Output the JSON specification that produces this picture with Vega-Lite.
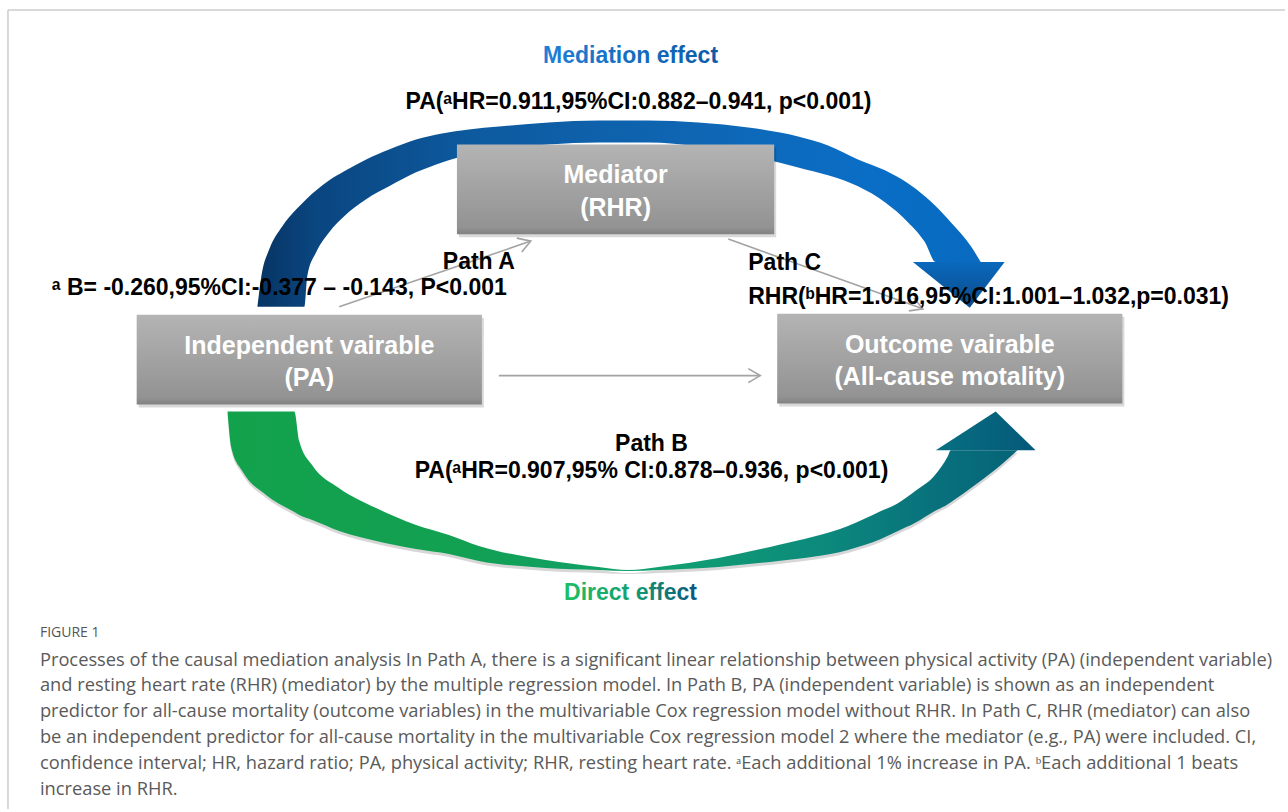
{
  "$schema": "https://vega.github.io/schema/vega-lite/v6.json",
  "width": 1288,
  "height": 812,
  "autosize": {"type": "fit", "contains": "padding"},
  "padding": 0,
  "background": "white",
  "config": {"view": {"stroke": null}},
  "datasets": {
    "frame": [
      {"seg": "top", "i": 0, "x": 8, "y": 10},
      {"seg": "top", "i": 1, "x": 1288, "y": 10},
      {"seg": "left", "i": 0, "x": 8, "y": 10},
      {"seg": "left", "i": 1, "x": 8, "y": 812}
    ],
    "blueBand": [
      {"x": 258, "y": 308, "y2": 308},
      {"x": 262, "y": 277, "y2": 308},
      {"x": 270, "y": 250, "y2": 308},
      {"x": 283, "y": 227, "y2": 308},
      {"x": 297, "y": 210, "y2": 308},
      {"x": 305, "y": 202, "y2": 308},
      {"x": 308, "y": 199, "y2": 277},
      {"x": 317, "y": 191, "y2": 253},
      {"x": 330, "y": 181, "y2": 233},
      {"x": 345, "y": 172, "y2": 217},
      {"x": 367, "y": 160, "y2": 200},
      {"x": 390, "y": 150, "y2": 187},
      {"x": 417, "y": 140, "y2": 173},
      {"x": 443, "y": 134, "y2": 163},
      {"x": 470, "y": 130, "y2": 155},
      {"x": 500, "y": 127, "y2": 150},
      {"x": 550, "y": 123, "y2": 145},
      {"x": 600, "y": 121, "y2": 143},
      {"x": 650, "y": 121, "y2": 143},
      {"x": 700, "y": 123, "y2": 147},
      {"x": 750, "y": 128, "y2": 156},
      {"x": 800, "y": 137, "y2": 168},
      {"x": 830, "y": 146, "y2": 176},
      {"x": 860, "y": 160, "y2": 187},
      {"x": 887, "y": 171, "y2": 203},
      {"x": 910, "y": 184, "y2": 223},
      {"x": 927, "y": 197, "y2": 243},
      {"x": 938, "y": 207, "y2": 263},
      {"x": 953, "y": 223, "y2": 263},
      {"x": 973, "y": 247, "y2": 263},
      {"x": 983, "y": 263, "y2": 263}
    ],
    "blueHead": [
      {"x": 915, "y": 263, "y2": 263},
      {"x": 972, "y": 263, "y2": 309},
      {"x": 1007, "y": 263, "y2": 263}
    ],
    "greenBand": [
      {"x": 228, "y": 413, "y2": 413},
      {"x": 232, "y": 413, "y2": 450},
      {"x": 243, "y": 413, "y2": 473},
      {"x": 267, "y": 413, "y2": 497},
      {"x": 295, "y": 413, "y2": 514},
      {"x": 300, "y": 443, "y2": 517},
      {"x": 313, "y": 467, "y2": 522},
      {"x": 340, "y": 490, "y2": 533},
      {"x": 377, "y": 510, "y2": 543},
      {"x": 417, "y": 527, "y2": 551},
      {"x": 450, "y": 537, "y2": 556},
      {"x": 480, "y": 548, "y2": 563},
      {"x": 547, "y": 562, "y2": 570},
      {"x": 600, "y": 569, "y2": 572},
      {"x": 630, "y": 572, "y2": 573},
      {"x": 660, "y": 569, "y2": 572},
      {"x": 720, "y": 560, "y2": 569},
      {"x": 780, "y": 547, "y2": 563},
      {"x": 850, "y": 528, "y2": 552},
      {"x": 883, "y": 513, "y2": 541},
      {"x": 900, "y": 505, "y2": 533},
      {"x": 917, "y": 493, "y2": 525},
      {"x": 937, "y": 477, "y2": 513},
      {"x": 950, "y": 458, "y2": 506},
      {"x": 953, "y": 452, "y2": 504},
      {"x": 977, "y": 452, "y2": 487},
      {"x": 1003, "y": 452, "y2": 467},
      {"x": 1020, "y": 452, "y2": 452}
    ],
    "greenHead": [
      {"x": 938, "y": 452, "y2": 452},
      {"x": 998, "y": 413, "y2": 452},
      {"x": 1038, "y": 452, "y2": 452}
    ],
    "boxes": [
      {"name": "Mediator", "x": 458, "x2": 776, "y": 145, "y2": 235},
      {"name": "Independent", "x": 137, "x2": 483, "y": 316, "y2": 406},
      {"name": "Outcome", "x": 779, "x2": 1125, "y": 315, "y2": 405}
    ],
    "arrows": [
      {"seg": "pathA", "i": 0, "x": 340, "y": 308},
      {"seg": "pathA", "i": 1, "x": 532, "y": 242},
      {"seg": "pathAhead", "i": 0, "x": 518, "y": 239},
      {"seg": "pathAhead", "i": 1, "x": 532, "y": 242},
      {"seg": "pathAhead", "i": 2, "x": 523, "y": 253},
      {"seg": "pathC", "i": 0, "x": 730, "y": 240},
      {"seg": "pathC", "i": 1, "x": 925, "y": 310},
      {"seg": "pathChead", "i": 0, "x": 916, "y": 299},
      {"seg": "pathChead", "i": 1, "x": 925, "y": 310},
      {"seg": "pathChead", "i": 2, "x": 911, "y": 312},
      {"seg": "direct", "i": 0, "x": 500, "y": 377},
      {"seg": "direct", "i": 1, "x": 762, "y": 377},
      {"seg": "directhead", "i": 0, "x": 750, "y": 370},
      {"seg": "directhead", "i": 1, "x": 762, "y": 377},
      {"seg": "directhead", "i": 2, "x": 750, "y": 384}
    ],
    "labels": [
      {"kind": "title", "text": "Mediation effect", "x": 632, "y": 63},
      {"kind": "direct", "text": "Direct effect", "x": 632, "y": 602},
      {"kind": "statC", "text": "PA(ᵃHR=0.911,95%CI:0.882–0.941, p<0.001)", "x": 640, "y": 109},
      {"kind": "statC", "text": "Path B", "x": 653, "y": 453},
      {"kind": "statC", "text": "PA(ᵃHR=0.907,95% CI:0.878–0.936, p<0.001)", "x": 653, "y": 480},
      {"kind": "statR", "text": "Path A", "x": 516, "y": 270},
      {"kind": "statL", "text": "ᵃ B= -0.260,95%CI:-0.377 – -0.143, P<0.001", "x": 52, "y": 296},
      {"kind": "statL", "text": "Path C", "x": 750, "y": 271},
      {"kind": "statL", "text": "RHR(ᵇHR=1.016,95%CI:1.001–1.032,p=0.031)", "x": 750, "y": 305},
      {"kind": "box", "text": "Mediator", "x": 617, "y": 184},
      {"kind": "box", "text": "(RHR)", "x": 617, "y": 217},
      {"kind": "box", "text": "Independent vairable", "x": 310, "y": 355},
      {"kind": "box", "text": "(PA)", "x": 310, "y": 387},
      {"kind": "box", "text": "Outcome vairable", "x": 952, "y": 354},
      {"kind": "box", "text": "(All-cause motality)", "x": 952, "y": 386},
      {"kind": "fig", "text": "FIGURE 1", "x": 40, "y": 635},
      {"kind": "cap", "text": "Processes of the causal mediation analysis In Path A, there is a significant linear relationship between physical activity (PA) (independent variable)", "x": 40, "y": 663},
      {"kind": "cap", "text": "and resting heart rate (RHR) (mediator) by the multiple regression model. In Path B, PA (independent variable) is shown as an independent", "x": 40, "y": 689},
      {"kind": "cap", "text": "predictor for all-cause mortality (outcome variables) in the multivariable Cox regression model without RHR. In Path C, RHR (mediator) can also", "x": 40, "y": 715},
      {"kind": "cap", "text": "be an independent predictor for all-cause mortality in the multivariable Cox regression model 2 where the mediator (e.g., PA) were included. CI,", "x": 40, "y": 741},
      {"kind": "cap", "text": "confidence interval; HR, hazard ratio; PA, physical activity; RHR, resting heart rate. ᵃEach additional 1% increase in PA. ᵇEach additional 1 beats", "x": 40, "y": 767},
      {"kind": "cap", "text": "increase in RHR.", "x": 40, "y": 793}
    ]
  },
  "encoding": {
    "x": {"field": "x", "type": "quantitative", "scale": {"domain": [0, 1288], "nice": false, "zero": false}, "axis": null},
    "y": {"field": "y", "type": "quantitative", "scale": {"domain": [0, 812], "nice": false, "zero": false, "reverse": true}, "axis": null, "stack": null}
  },
  "layer": [
    {
      "data": {"name": "frame"},
      "mark": {"type": "line", "stroke": "#cccccc", "strokeWidth": 1.5},
      "encoding": {"detail": {"field": "seg"}, "order": {"field": "i"}}
    },
    {
      "data": {"name": "blueBand"},
      "mark": {"type": "area", "orient": "vertical", "interpolate": "monotone",
        "color": {"gradient": "linear", "x1": 0, "y1": 0, "x2": 1, "y2": 0,
          "stops": [
            {"offset": 0, "color": "#073463"},
            {"offset": 0.08, "color": "#0a4680"},
            {"offset": 0.3, "color": "#0d5a9f"},
            {"offset": 0.6, "color": "#0f66b3"},
            {"offset": 0.85, "color": "#0a6ec6"},
            {"offset": 1, "color": "#086ac0"}
          ]}},
      "encoding": {"y2": {"field": "y2"}}
    },
    {
      "data": {"name": "blueHead"},
      "mark": {"type": "area", "orient": "vertical", "interpolate": "linear",
        "color": {"gradient": "linear", "x1": 0, "y1": 0, "x2": 0, "y2": 1,
          "stops": [
            {"offset": 0, "color": "#0a69bd"},
            {"offset": 1, "color": "#0b4a8a"}
          ]}},
      "encoding": {"y2": {"field": "y2"}}
    },
    {
      "data": {"name": "greenBand"},
      "mark": {"type": "area", "orient": "vertical", "interpolate": "monotone", "color": "#7a7a7a", "opacity": 0.3, "yOffset": 3, "y2Offset": 3},
      "encoding": {"y2": {"field": "y2"}}
    },
    {
      "data": {"name": "greenBand"},
      "mark": {"type": "area", "orient": "vertical", "interpolate": "monotone",
        "color": {"gradient": "linear", "x1": 0, "y1": 0, "x2": 1, "y2": 0,
          "stops": [
            {"offset": 0, "color": "#13a24c"},
            {"offset": 0.3, "color": "#12a052"},
            {"offset": 0.55, "color": "#10a070"},
            {"offset": 0.75, "color": "#0c8a7c"},
            {"offset": 0.9, "color": "#08707c"},
            {"offset": 1, "color": "#066478"}
          ]}},
      "encoding": {"y2": {"field": "y2"}}
    },
    {
      "data": {"name": "greenHead"},
      "mark": {"type": "area", "orient": "vertical", "interpolate": "linear",
        "color": {"gradient": "linear", "x1": 0, "y1": 0, "x2": 1, "y2": 0,
          "stops": [
            {"offset": 0, "color": "#077080"},
            {"offset": 1, "color": "#05587a"}
          ]}},
      "encoding": {"y2": {"field": "y2"}}
    },
    {
      "data": {"name": "boxes"},
      "mark": {"type": "rect", "color": "#000000", "opacity": 0.15, "xOffset": 2, "x2Offset": 2, "yOffset": 3, "y2Offset": 3},
      "encoding": {"x2": {"field": "x2"}, "y2": {"field": "y2"}}
    },
    {
      "data": {"name": "boxes"},
      "mark": {"type": "rect",
        "color": {"gradient": "linear", "x1": 0, "y1": 0, "x2": 0, "y2": 1,
          "stops": [
            {"offset": 0, "color": "#b4b4b4"},
            {"offset": 0.92, "color": "#939393"},
            {"offset": 1, "color": "#828282"}
          ]}},
      "encoding": {"x2": {"field": "x2"}, "y2": {"field": "y2"}}
    },
    {
      "data": {"name": "arrows"},
      "mark": {"type": "line", "stroke": "#a3a3a3", "strokeWidth": 1.6},
      "encoding": {"detail": {"field": "seg"}, "order": {"field": "i"}}
    },
    {
      "data": {"name": "labels"},
      "transform": [{"filter": "datum.kind === 'box'"}],
      "mark": {"type": "text", "font": "Liberation Sans", "fontWeight": "bold", "fontSize": 25, "color": "#ffffff", "align": "center", "baseline": "alphabetic"},
      "encoding": {"text": {"field": "text"}}
    },
    {
      "data": {"name": "labels"},
      "transform": [{"filter": "datum.kind === 'statC'"}],
      "mark": {"type": "text", "font": "Liberation Sans", "fontWeight": "bold", "fontSize": 23, "color": "#000000", "align": "center", "baseline": "alphabetic"},
      "encoding": {"text": {"field": "text"}}
    },
    {
      "data": {"name": "labels"},
      "transform": [{"filter": "datum.kind === 'statL'"}],
      "mark": {"type": "text", "font": "Liberation Sans", "fontWeight": "bold", "fontSize": 23, "color": "#000000", "align": "left", "baseline": "alphabetic"},
      "encoding": {"text": {"field": "text"}}
    },
    {
      "data": {"name": "labels"},
      "transform": [{"filter": "datum.kind === 'statR'"}],
      "mark": {"type": "text", "font": "Liberation Sans", "fontWeight": "bold", "fontSize": 23, "color": "#000000", "align": "right", "baseline": "alphabetic"},
      "encoding": {"text": {"field": "text"}}
    },
    {
      "data": {"name": "labels"},
      "transform": [{"filter": "datum.kind === 'title'"}],
      "mark": {"type": "text", "font": "Liberation Sans", "fontWeight": "bold", "fontSize": 23, "align": "center", "baseline": "alphabetic",
        "color": {"gradient": "linear", "x1": 0, "y1": 0, "x2": 1, "y2": 0,
          "stops": [{"offset": 0, "color": "#1f80d6"}, {"offset": 1, "color": "#0c5aa8"}]}},
      "encoding": {"text": {"field": "text"}}
    },
    {
      "data": {"name": "labels"},
      "transform": [{"filter": "datum.kind === 'direct'"}],
      "mark": {"type": "text", "font": "Liberation Sans", "fontWeight": "bold", "fontSize": 23, "align": "center", "baseline": "alphabetic",
        "color": {"gradient": "linear", "x1": 0, "y1": 0, "x2": 1, "y2": 0,
          "stops": [{"offset": 0, "color": "#1fbf63"}, {"offset": 0.5, "color": "#14a070"}, {"offset": 1, "color": "#0b5580"}]}},
      "encoding": {"text": {"field": "text"}}
    },
    {
      "data": {"name": "labels"},
      "transform": [{"filter": "datum.kind === 'fig'"}],
      "mark": {"type": "text", "font": "Open Sans", "fontSize": 14, "color": "#555555", "align": "left", "baseline": "middle"},
      "encoding": {"text": {"field": "text"}}
    },
    {
      "data": {"name": "labels"},
      "transform": [{"filter": "datum.kind === 'cap'"}],
      "mark": {"type": "text", "font": "Open Sans", "fontSize": 18.3, "color": "#5a5a5a", "align": "left", "baseline": "middle"},
      "encoding": {"text": {"field": "text"}}
    }
  ]
}
